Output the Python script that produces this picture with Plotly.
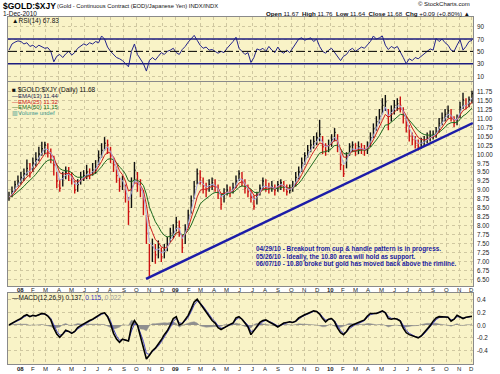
import pandas as pd
import plotly.graph_objects as go

W, H = 500, 374

# ---------------- data (weekly samples) ----------------
closes = [8.80, 8.95, 9.15, 9.25, 9.35, 9.45, 9.60, 9.55, 9.75, 9.85,
          10.00, 10.15, 10.25, 10.10, 9.95, 9.70, 9.25, 9.05, 9.35, 9.50,
          9.45, 9.30, 9.00, 9.15, 9.35, 9.40, 9.50, 9.45, 9.55, 9.65,
          9.90, 10.10, 10.30, 10.25, 9.95, 9.70, 9.40, 9.10, 9.20, 8.90,
          8.40, 9.10, 9.55, 9.20, 9.00, 8.70, 7.80, 6.90, 7.40, 7.20,
          7.40, 7.15, 7.30, 7.50, 7.80, 7.85, 8.10, 7.95, 7.40, 7.90,
          8.30, 8.70, 9.10, 9.45, 9.35, 9.10, 9.00, 9.15, 9.20, 9.10,
          8.95, 8.60, 8.90, 9.00, 8.95, 9.05, 9.25, 9.45, 9.30, 9.05,
          8.95, 8.80, 8.55, 8.85, 9.05, 9.25, 9.10, 9.05, 9.10, 9.00,
          9.15, 9.20, 9.10, 8.95, 9.00, 9.10, 9.35, 9.50, 9.75, 9.95,
          10.10, 10.25, 10.35, 10.45, 10.55, 10.20, 10.10, 10.25, 10.40, 10.60,
          10.30, 9.70, 9.45, 9.90, 10.20, 10.25, 10.10, 10.20, 10.15, 10.10,
          10.20, 10.45, 10.70, 10.90, 11.05, 11.35, 11.45, 10.85, 11.20, 11.35,
          11.40, 11.35, 11.05, 10.80, 10.50, 10.40, 10.30, 10.20, 10.30, 10.35,
          10.45, 10.50, 10.55, 10.60, 10.85, 11.00, 11.10, 11.20, 11.05, 10.85,
          10.95, 11.30, 11.50, 11.35, 11.50, 11.68]

highs = [8.95, 9.10, 9.25, 9.40, 9.50, 9.60, 9.85, 9.75, 9.90, 10.05,
         10.20, 10.34, 10.34, 10.30, 10.15, 9.95, 9.50, 9.30, 9.50, 9.65,
         9.64, 9.50, 9.25, 9.30, 9.50, 9.55, 9.70, 9.60, 9.75, 9.83,
         10.10, 10.30, 10.47, 10.40, 10.20, 9.90, 9.65, 9.35, 9.40, 9.15,
         8.80, 9.35, 9.78, 9.50, 9.30, 9.00, 8.30, 7.50, 7.65, 7.50,
         7.60, 7.40, 7.50, 7.70, 7.95, 8.05, 8.25, 8.15, 7.75, 8.05,
         8.45, 8.85, 9.25, 9.60, 9.55, 9.35, 9.20, 9.30, 9.35, 9.30,
         9.15, 8.90, 9.05, 9.15, 9.10, 9.20, 9.40, 9.55, 9.50, 9.30,
         9.15, 9.00, 8.85, 8.95, 9.15, 9.35, 9.30, 9.20, 9.25, 9.15,
         9.25, 9.30, 9.25, 9.15, 9.15, 9.25, 9.50, 9.65, 9.90, 10.05,
         10.25, 10.40, 10.50, 10.60, 10.95, 10.50, 10.30, 10.40, 10.55, 10.72,
         10.55, 10.05, 9.70, 10.05, 10.30, 10.35, 10.30, 10.35, 10.30, 10.25,
         10.35, 10.60, 10.85, 11.05, 11.25, 11.55, 11.64, 11.25, 11.35, 11.50,
         11.55, 11.60, 11.30, 11.05, 10.80, 10.60, 10.50, 10.40, 10.45, 10.50,
         10.60, 10.65, 10.65, 10.75, 11.00, 11.15, 11.25, 11.35, 11.25, 11.05,
         11.10, 11.45, 11.70, 11.55, 11.60, 11.76]

lows = [8.70, 8.80, 8.95, 9.10, 9.15, 9.25, 9.40, 9.35, 9.50, 9.65,
        9.80, 9.95, 10.00, 9.90, 9.75, 9.40, 9.05, 8.95, 9.10, 9.30,
        9.25, 9.15, 8.90, 8.95, 9.15, 9.25, 9.30, 9.30, 9.40, 9.45,
        9.70, 9.90, 10.10, 10.00, 9.75, 9.50, 9.20, 8.95, 9.00, 8.65,
        8.03, 8.50, 9.20, 8.95, 8.80, 8.30, 7.50, 6.55, 7.00, 6.95,
        7.10, 7.00, 7.10, 7.30, 7.55, 7.65, 7.85, 7.70, 7.25, 7.50,
        7.95, 8.35, 8.75, 9.15, 9.15, 8.90, 8.80, 8.95, 9.00, 8.95,
        8.75, 8.45, 8.65, 8.85, 8.80, 8.90, 9.05, 9.25, 9.10, 8.90,
        8.80, 8.65, 8.45, 8.60, 8.85, 9.00, 8.95, 8.90, 8.95, 8.85,
        8.95, 9.00, 8.95, 8.85, 8.90, 8.95, 9.10, 9.30, 9.50, 9.70,
        9.90, 10.05, 10.15, 10.25, 10.35, 10.00, 9.95, 10.05, 10.20, 10.35,
        10.05, 9.55, 9.36, 9.60, 9.95, 10.05, 9.95, 10.00, 10.00, 9.95,
        10.00, 10.20, 10.45, 10.65, 10.85, 11.10, 11.20, 10.66, 10.90, 11.10,
        11.20, 11.15, 10.85, 10.60, 10.35, 10.25, 10.15, 10.10, 10.15, 10.20,
        10.30, 10.35, 10.40, 10.45, 10.60, 10.80, 10.90, 11.00, 10.90, 10.75,
        10.80, 11.00, 11.25, 11.25, 11.30, 11.40]

rsi_vals = [52, 62, 65, 67, 66, 62, 64, 58, 60, 56,
            60, 58, 55, 56, 50, 33, 42, 45, 40, 46,
            50, 44, 48, 55, 58, 62, 60, 64, 62, 66,
            64, 75, 70, 57, 50, 45, 40, 38, 35, 30,
            25, 50, 62, 45, 38, 30, 18, 35, 40, 36,
            42, 48, 45, 50, 52, 55, 48, 45, 53, 58,
            65, 70, 76, 68, 60, 55, 57, 52, 53, 50,
            47, 50, 48, 55, 60, 66, 73, 55, 50, 45,
            48, 32, 40, 54, 52, 55, 50, 58, 52, 48,
            57, 50, 47, 52, 48, 55, 62, 70, 72, 68,
            70, 72, 66, 70, 58, 50, 47, 52, 55, 48,
            40, 35, 42, 45, 52, 55, 50, 53, 57, 55,
            60, 66, 75, 70, 72, 75, 60, 53, 58, 55,
            58, 50, 40, 30, 38, 35, 40, 38, 42, 45,
            50, 54, 52, 71, 66, 70, 64, 60, 52, 50,
            60, 69, 52, 58, 66, 67.83]

macd_vals = [0.00, 0.03, 0.05, 0.08, 0.10, 0.14, 0.16, 0.13, 0.15, 0.14,
             0.16, 0.18, 0.17, 0.14, 0.08, -0.05, -0.14, -0.19, -0.14, -0.08,
             -0.10, -0.13, -0.10, -0.04, -0.01, 0.02, 0.04, 0.07, 0.09, 0.12,
             0.15, 0.18, 0.19, 0.13, 0.02, -0.13, -0.22, -0.27, -0.22, -0.24,
             -0.25, -0.02, 0.07, 0.00, -0.18, -0.32, -0.53, -0.47, -0.40, -0.36,
             -0.30, -0.23, -0.15, -0.09, 0.00, 0.10, 0.13, 0.00, 0.02, 0.08,
             0.15, 0.25, 0.36, 0.40, 0.33, 0.27, 0.19, 0.13, 0.07, 0.03,
             -0.04, -0.07, -0.04, -0.01, 0.01, 0.03, 0.11, 0.13, 0.09, 0.03,
             -0.03, -0.15, -0.08, -0.01, 0.04, 0.07, 0.08, 0.05, 0.03, 0.00,
             -0.03, 0.00, 0.03, 0.04, 0.05, 0.04, 0.06, 0.11, 0.14, 0.16,
             0.18, 0.20, 0.22, 0.21, 0.17, 0.10, 0.05, 0.09, 0.10, 0.05,
             -0.05, -0.12, -0.15, -0.10, -0.03, 0.00, 0.02, 0.03, 0.05, 0.08,
             0.14, 0.18, 0.18, 0.18, 0.20, 0.22, 0.19, 0.10, 0.09, 0.10,
             0.09, 0.06, -0.05, -0.12, -0.15, -0.17, -0.19, -0.20, -0.17, -0.12,
             -0.06, -0.01, 0.06, 0.11, 0.13, 0.13, 0.13, 0.12, 0.06, 0.09,
             0.15, 0.12, 0.10, 0.12, 0.13, 0.137]

trend_dates = ["2008-10-24", "2010-12-03"]
trend_vals = [6.53, 10.86]

month_labels = ["D", "<b>08</b>", "F", "M", "A", "M", "J", "J", "A", "S", "O", "N",
                "D", "<b>09</b>", "F", "M", "A", "M", "J", "J", "A", "S", "O", "N",
                "D", "<b>10</b>", "F", "M", "A", "M", "J", "J", "A", "S", "O", "N", "D"]
price_ticks = [6.50 + 0.25 * i for i in range(22)]
rsi_ticks = [10, 30, 50, 70, 90]
macd_ticks = [-0.4, -0.2, 0.0, 0.2, 0.4]

dates = pd.date_range("2007-12-06", "2010-12-01", periods=len(closes))
month_ticks = pd.date_range("2007-12-01", "2010-12-01", freq="MS")


def ema(vals, alpha):
    out = [vals[0]]
    for v in vals[1:]:
        out.append(alpha * v + (1 - alpha) * out[-1])
    return out

# daily EMA periods converted to weekly sampling
ema13 = ema(closes, 1 - (1 - 2 / 14) ** 5)
ema25 = ema(closes, 1 - (1 - 2 / 26) ** 5)
ema50 = ema(closes, 1 - (1 - 2 / 51) ** 5)
signal = ema(macd_vals, 1 - (1 - 2 / 10) ** 5)
hist = [m - s for m, s in zip(macd_vals, signal)]

# ---------------- layout helpers ----------------
def px(x):
    return x / W

def py(y):
    return 1 - y / H

XDOM = [px(8), px(473)]
XRANGE = ["2007-12-03 16:00", "2010-12-03 10:00"]
BG = "#f9f3c7"
GRID = "#cfc7a0"
FONT = "Liberation Sans, Arial, sans-serif"

fig = go.Figure()

# price bars
up_x, up_y, dn_x, dn_y = [], [], [], []
for i, d in enumerate(dates):
    prev = closes[i - 1] if i > 0 else closes[i]
    tx, ty = (up_x, up_y) if closes[i] >= prev else (dn_x, dn_y)
    tick = d + pd.Timedelta(days=2.5)
    tx += [d, d, None, d, tick, None]
    ty += [lows[i], highs[i], None, closes[i], closes[i], None]

fig.add_trace(go.Scatter(x=up_x, y=up_y, mode="lines", line=dict(color="#111111", width=1.4),
                         xaxis="x2", yaxis="y2", hoverinfo="skip"))
fig.add_trace(go.Scatter(x=dn_x, y=dn_y, mode="lines", line=dict(color="#cc1111", width=1.4),
                         xaxis="x2", yaxis="y2", hoverinfo="skip"))
fig.add_trace(go.Scatter(x=dates, y=ema50, mode="lines", line=dict(color="#1f6a1f", width=1),
                         xaxis="x2", yaxis="y2"))
fig.add_trace(go.Scatter(x=dates, y=ema25, mode="lines", line=dict(color="#d02020", width=1),
                         xaxis="x2", yaxis="y2"))
fig.add_trace(go.Scatter(x=dates, y=ema13, mode="lines", line=dict(color="#a8a8e0", width=1),
                         xaxis="x2", yaxis="y2"))
fig.add_trace(go.Scatter(x=trend_dates, y=trend_vals, mode="lines",
                         line=dict(color="#1c1ca8", width=2.5), xaxis="x2", yaxis="y2"))

# RSI
fig.add_trace(go.Scatter(x=dates, y=rsi_vals, mode="lines", line=dict(color="#24248a", width=1),
                         xaxis="x", yaxis="y"))

# MACD
fig.add_trace(go.Scatter(x=dates, y=hist, mode="lines", fill="tozeroy", fillcolor="#8f8f8f",
                         line=dict(color="#8f8f8f", width=0.5), xaxis="x3", yaxis="y3"))
fig.add_trace(go.Scatter(x=dates, y=signal, mode="lines", line=dict(color="#4848c8", width=1),
                         xaxis="x3", yaxis="y3"))
fig.add_trace(go.Scatter(x=dates, y=macd_vals, mode="lines", line=dict(color="#000000", width=1.6),
                         xaxis="x3", yaxis="y3"))

axis_common = dict(showline=True, mirror=True, linecolor="#8a8a8a", linewidth=1,
                   showgrid=True, gridcolor=GRID, griddash="dot", gridwidth=1,
                   zeroline=False, fixedrange=True, showticklabels=False, ticks="")
xcommon = dict(axis_common, type="date", range=XRANGE, domain=XDOM, tickvals=month_ticks)
ycommon = dict(axis_common, side="right")

fig.update_layout(
    width=W, height=H, margin=dict(l=0, r=0, t=0, b=0),
    paper_bgcolor="white", plot_bgcolor=BG, showlegend=False,
    xaxis=dict(xcommon, anchor="y"),
    yaxis=dict(ycommon, domain=[py(81), py(17)], range=[1.9, 105.8], anchor="x",
               tickvals=rsi_ticks),
    xaxis2=dict(xcommon, anchor="y2"),
    yaxis2=dict(ycommon, domain=[py(286), py(82)], range=[6.333, 12.0], anchor="x2",
                tickvals=price_ticks),
    xaxis3=dict(xcommon, anchor="y3"),
    yaxis3=dict(ycommon, domain=[py(364), py(293)], range=[-0.607, 0.498], anchor="x3",
                tickvals=macd_ticks),
)

# RSI reference lines
fig.add_shape(type="line", xref="x domain", yref="y", x0=0, x1=1, y0=70, y1=70,
              line=dict(color="#1c1c80", width=1.5))
fig.add_shape(type="line", xref="x domain", yref="y", x0=0, x1=1, y0=30, y1=30,
              line=dict(color="#1c1c80", width=1.5))
fig.add_shape(type="line", xref="x domain", yref="y", x0=0, x1=1, y0=50, y1=50,
              line=dict(color="#000000", width=1, dash="dashdot"))


def note(x, y, text, size=6.5, color="#111", anchor="left"):
    fig.add_annotation(x=px(x), y=py(y), xref="paper", yref="paper", text=text,
                       showarrow=False, xanchor=anchor, yanchor="middle",
                       font=dict(family=FONT, size=size, color=color))

# right-hand value labels, placed through each panel's y scale
for yref, vals, fmt in (("y", rsi_ticks, "{:.0f}"), ("y2", price_ticks, "{:.2f}"),
                        ("y3", macd_ticks, "{:.1f}")):
    for v in vals:
        fig.add_annotation(x=px(475.5), xref="paper", y=v, yref=yref, text=fmt.format(v),
                           showarrow=False, xanchor="left", yanchor="middle", borderpad=0,
                           font=dict(family=FONT, size=6.3, color="#222"))

# month labels under the price panel and under the MACD panel
for d, lab in zip(month_ticks, month_labels):
    for ylab in (289.5, 368.5):
        fig.add_annotation(x=d, xref="x2", y=py(ylab), yref="paper", text=lab,
                           showarrow=False, xanchor="center", yanchor="middle", borderpad=0,
                           font=dict(family=FONT, size=6, color="#222"))

# header
note(1, 6, "<b>$GOLD:$XJY</b>", size=8.5, color="#000")
note(55, 6.5, "(Gold - Continuous Contract (EOD)/Japanese Yen) INDX/INDX", size=5.8)
note(1, 13, "1-Dec-2010", size=6.5)
note(472, 4, "© StockCharts.com", size=6, anchor="right")
note(472, 13, "<b>Open</b> 11.67  <b>High</b> 11.76  <b>Low</b> 11.64  <b>Close</b> 11.68  "
              "<b>Chg</b> +0.09 (+0.80%) ▲", size=6.2, anchor="right")

# panel legends
note(10, 20.5, "▲RSI(14) 67.83", size=6.5)
note(10, 90, "■ $GOLD:$XJY (Daily) 11.68", size=6.5)
note(10, 96, "—EMA(13) 11.44", size=6, color="#202050")
note(10, 101.8, "—EMA(25) 11.32", size=6, color="#cc2020")
note(10, 107.5, "—EMA(50) 11.15", size=6, color="#1f6a1f")
note(10, 113.3, "▥Volume undef", size=6, color="#3f9a90")
note(10, 298, "—MACD(12,26,9) 0.137, <span style='color:#3a3ac0'>0.115</span>, "
              "<span style='color:#9a9a9a'>0.022</span>", size=6.5)

# commentary
NAVY = "#1a1aa0"
note(254, 248.8, "<b>04/29/10 - Breakout from cup &amp; handle pattern is in progress.</b>", size=6.4, color=NAVY)
note(254, 256.6, "<b>05/26/10 - Ideally, the 10.80 area will hold as support.</b>", size=6.4, color=NAVY)
note(254, 264.4, "<b>06/07/10 - 10.80 broke but gold has moved back above the rimline.</b>", size=6.4, color=NAVY)

# remove the browser's default page margin so the whole 500x374 figure fits the window
fig.write_html("out.html", config={"displayModeBar": False},
               post_script="document.body.style.margin='0px';")
